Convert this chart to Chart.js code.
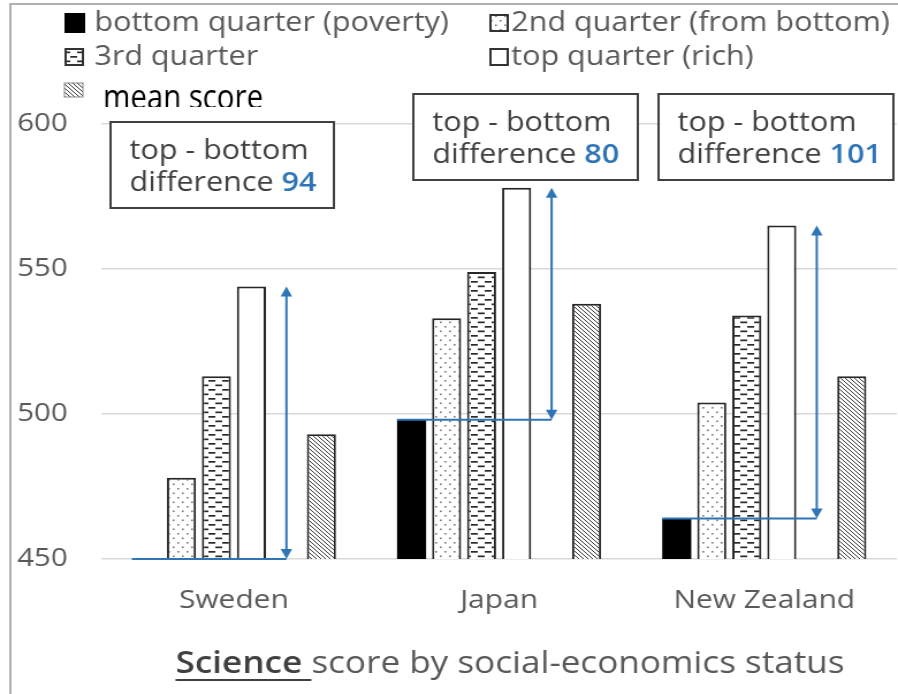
<!DOCTYPE html>
<html><head><meta charset="utf-8">
<script src="https://cdn.jsdelivr.net/npm/chart.js@4"></script>
<style>html,body{margin:0;padding:0;background:#fff;overflow:hidden}canvas{display:block}</style>
</head><body>
<canvas id="c" width="780" height="694" style="width:898px;height:694px"></canvas>
<script>
// ---- data ----
const countries = ['Sweden', 'Japan', 'New Zealand'];
const bottomQuarter = [450, 498, 464];
const secondQuarter = [478, 533, 504];
const thirdQuarter = [513, 549, 534];
const topQuarter = [544, 578, 565];
const meanScore = [493, 538, 513];
const topBottomDifference = [94, 80, 101];
const seriesNames = ['bottom quarter (poverty)', '2nd quarter (from bottom)', '3rd quarter', 'top quarter (rich)', 'mean score'];
const yTickValues = [450, 500, 550, 600];
const titleBold = 'Science';
const titleRest = ' score by social-economics status';

// ---- styling ----
const FONT = 'Open Sans';
const GRAY = '#595959';
const DARK = '#404040';
const BLUE = '#2E75B6';
const STRETCH = 898 / 780;
const canvas = document.getElementById('c');
const mainCtx = canvas.getContext('2d');

function makePattern(w, h, draw) {
  const c = document.createElement('canvas');
  c.width = w; c.height = h;
  const g = c.getContext('2d');
  g.fillStyle = '#fff'; g.fillRect(0, 0, w, h);
  draw(g);
  return mainCtx.createPattern(c, 'repeat');
}
const dotPattern = makePattern(8, 9, g => {
  g.fillStyle = '#7a7a7a';
  g.fillRect(2, 2, 1.6, 1.6);
  g.fillRect(6, 6.5, 1.6, 1.6);
});
const dashPattern = makePattern(12, 9, g => {
  g.fillStyle = '#2a2a2a';
  g.fillRect(1, 2, 6, 1.7);
  g.fillRect(7, 6.5, 6, 1.7);
  g.fillRect(-5, 6.5, 6, 1.7);
});
const hatchPattern = makePattern(4, 4, g => {
  g.strokeStyle = '#3a3a3a'; g.lineWidth = 1;
  g.beginPath();
  g.moveTo(0, 0); g.lineTo(4, 4);
  g.moveTo(-1, 3); g.lineTo(1, 5);
  g.moveTo(3, -1); g.lineTo(5, 1);
  g.stroke();
});

const BORDER = '#262626';
const barFills = ['#000000', dotPattern, dashPattern, '#ffffff', hatchPattern];

const annotationBoxes = [
  { x: 96, y: 122, w: 194, h: 86 },
  { x: 359, y: 94, w: 195, h: 86 },
  { x: 572, y: 94, w: 204, h: 86 }
];

function arrowHead(ctx, x, y, dir) {
  ctx.beginPath();
  ctx.moveTo(x, y);
  ctx.lineTo(x - 5, y - dir * 10);
  ctx.lineTo(x + 5, y - dir * 10);
  ctx.closePath();
  ctx.fill();
}

const decorPlugin = {
  id: 'decor',
  beforeDraw(chart) {
    const ctx = chart.ctx;
    ctx.save();
    // outer frame
    ctx.strokeStyle = '#b0b0b0'; ctx.lineWidth = 2;
    ctx.beginPath();
    ctx.moveTo(9, 694); ctx.lineTo(9, 4); ctx.lineTo(780, 4);
    ctx.stroke();

    // legend
    ctx.font = `26.5px "${FONT}"`;
    ctx.fillStyle = GRAY;
    ctx.textBaseline = 'alphabetic';
    ctx.textAlign = 'left';
    const items = [
      { ix: 57, iy: 14, iw: 16, ih: 18, tx: 82, ty: 31, k: 0 },
      { ix: 426, iy: 15, iw: 15, ih: 16, tx: 444, ty: 31, k: 1 },
      { ix: 57, iy: 49, iw: 15, ih: 16, tx: 82, ty: 65, k: 2 },
      { ix: 426, iy: 49, iw: 15, ih: 16, tx: 444, ty: 65, k: 3 }
    ];
    items.forEach(it => {
      ctx.fillStyle = barFills[it.k];
      ctx.fillRect(it.ix, it.iy, it.iw, it.ih);
      ctx.strokeStyle = it.k === 0 ? '#000' : '#333';
      ctx.lineWidth = 2;
      ctx.strokeRect(it.ix, it.iy, it.iw, it.ih);
      ctx.fillStyle = GRAY;
      ctx.fillText(seriesNames[it.k], it.tx, it.ty);
    });
    // mean score legend entry (black, narrower lettering, clipped at the bottom)
    ctx.fillStyle = hatchPattern;
    ctx.fillRect(56, 83, 16, 14);
    ctx.strokeStyle = '#888'; ctx.lineWidth = 1;
    ctx.strokeRect(56, 83, 16, 14);
    ctx.save();
    ctx.beginPath(); ctx.rect(0, 0, 780, 107); ctx.clip();
    ctx.font = `34px "${FONT}"`;
    const mw = ctx.measureText(seriesNames[4]).width;
    ctx.translate(89.5, 108.5);
    ctx.scale((160 / STRETCH) / mw, 1);
    ctx.fillStyle = '#000';
    ctx.fillText(seriesNames[4], 0, 0);
    ctx.restore();

    // title
    const ty = 664;
    const fs = 30.5;
    ctx.textBaseline = 'middle';
    ctx.font = `600 ${fs}px "${FONT}"`;
    const w1 = ctx.measureText(titleBold + ' ').width;
    ctx.font = `${fs}px "${FONT}"`;
    const w2 = ctx.measureText(titleRest.slice(1)).width;
    const x0 = 443 - (w1 + w2) / 2;
    ctx.font = `600 ${fs}px "${FONT}"`;
    ctx.fillStyle = DARK;
    ctx.fillText(titleBold, x0, ty);
    ctx.fillRect(x0, ty + 15, w1, 2);
    ctx.font = `${fs}px "${FONT}"`;
    ctx.fillStyle = GRAY;
    ctx.fillText(titleRest.slice(1), x0 + w1, ty);
    ctx.restore();
  },
  afterDatasetsDraw(chart) {
    const ctx = chart.ctx;
    const y = chart.scales.y;
    ctx.save();
    // arrows
    ctx.strokeStyle = BLUE; ctx.fillStyle = BLUE; ctx.lineWidth = 2;
    countries.forEach((c, i) => {
      const tb = chart.getDatasetMeta(3).data[i];
      const mb = chart.getDatasetMeta(5).data[i];
      const bb = chart.getDatasetMeta(0).data[i];
      const ax = (tb.x + mb.x) / 2;
      const yT = y.getPixelForValue(topQuarter[i]);
      const yB = y.getPixelForValue(bottomQuarter[i]);
      const left = bb.x - bb.width / 2;
      ctx.beginPath();
      ctx.moveTo(left, yB); ctx.lineTo(ax, yB);
      ctx.moveTo(ax, yT + 8); ctx.lineTo(ax, yB - 8);
      ctx.stroke();
      arrowHead(ctx, ax, yT, -1);
      arrowHead(ctx, ax, yB, 1);
    });
    // annotation boxes
    annotationBoxes.forEach((b, i) => {
      ctx.fillStyle = '#fff';
      ctx.fillRect(b.x, b.y, b.w, b.h);
      ctx.strokeStyle = DARK; ctx.lineWidth = 2;
      ctx.strokeRect(b.x, b.y, b.w, b.h);
      ctx.textBaseline = 'middle'; ctx.textAlign = 'left';
      ctx.font = `26.5px "${FONT}"`;
      ctx.fillStyle = DARK;
      ctx.fillText('top - bottom', b.x + 16.5, b.y + 29);
      const t = 'difference ';
      ctx.fillText(t, b.x + 16.5, b.y + 61);
      const tw = ctx.measureText(t).width;
      ctx.font = `600 26.5px "${FONT}"`;
      ctx.fillStyle = BLUE;
      ctx.fillText(String(topBottomDifference[i]), b.x + 16.5 + tw, b.y + 61);
    });
    ctx.restore();
  }
};

const common = { borderColor: BORDER, borderWidth: 2 };
new Chart(canvas, {
  type: 'bar',
  data: {
    labels: countries,
    datasets: [
      { label: seriesNames[0], data: bottomQuarter, backgroundColor: barFills[0], borderColor: '#000', borderWidth: 0 },
      { label: seriesNames[1], data: secondQuarter, backgroundColor: barFills[1], ...common },
      { label: seriesNames[2], data: thirdQuarter, backgroundColor: barFills[2], ...common },
      { label: seriesNames[3], data: topQuarter, backgroundColor: barFills[3], ...common },
      { label: '', data: countries.map(() => null) },
      { label: seriesNames[4], data: meanScore, backgroundColor: barFills[4], ...common }
    ]
  },
  options: {
    responsive: false,
    devicePixelRatio: 1,
    animation: false,
    events: [],
    layout: { padding: { top: 124, left: 15, right: 1, bottom: 75 } },
    datasets: { bar: { categoryPercentage: 0.792, barPercentage: 0.83 } },
    plugins: { legend: { display: false }, tooltip: { enabled: false }, title: { display: false } },
    scales: {
      x: {
        grid: { display: false, drawTicks: false },
        border: { display: false },
        ticks: { color: GRAY, font: { family: FONT, size: 26 }, padding: 26 },
        afterFit(s) { s.height = 60; }
      },
      y: {
        min: 450, max: 600,
        afterBuildTicks(s) { s.ticks = yTickValues.map(v => ({ value: v })); },
        grid: { color: '#d9d9d9', lineWidth: 1.5, drawTicks: false },
        border: { display: false },
        ticks: { color: GRAY, font: { family: FONT, size: 25.5 }, crossAlign: 'far', padding: 0 },
        afterFit(s) { s.width = 73; }
      }
    }
  },
  plugins: [decorPlugin]
});
</script>
</body></html>
